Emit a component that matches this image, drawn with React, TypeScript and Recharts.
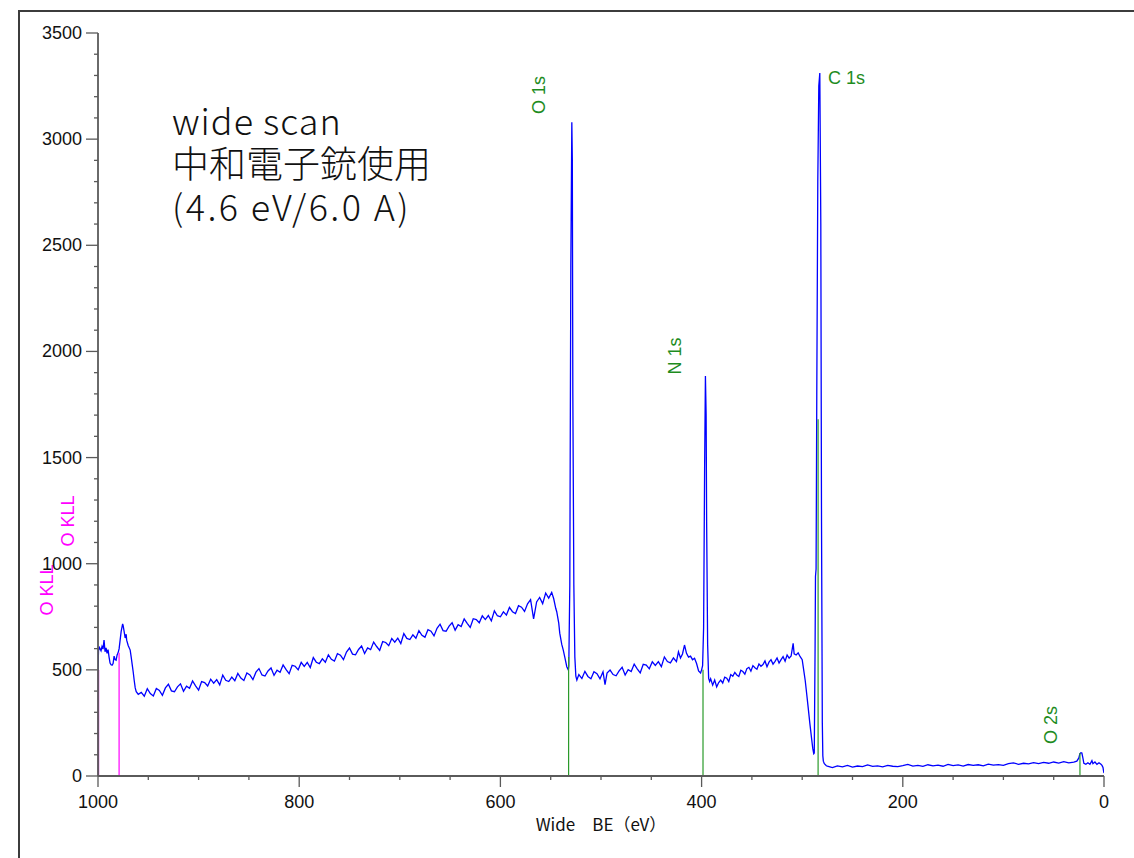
import React from "react";
import { LineChart, Line, XAxis, YAxis, ReferenceLine, ReferenceDot } from "recharts";

// wide scan spectrum: [binding energy (eV), intensity]
const spectrum: [number, number][] = [
  [1000, 500], [999.5, 590], [998.5, 605], [997, 590], [996, 610], [995, 598], [994, 640], [993, 585],
  [992, 603], [991, 578], [990, 595], [989, 560], [988, 532], [987, 524], [986, 522], [985, 530],
  [984, 565], [983, 548], [982, 545], [981, 570], [980, 580], [979, 600], [978, 640], [977, 680],
  [976, 705], [975.5, 716], [975, 708], [974, 680], [973, 650], [972, 668], [971.5, 640], [970, 615],
  [968, 593], [967, 560], [966, 525], [965, 490], [964, 450], [963, 415], [962, 397], [960, 385],
  [957, 394], [954, 376], [951, 411], [948, 388], [945, 377], [942, 412], [939, 403], [936, 380],
  [933, 415], [930, 432], [927, 401], [924, 397], [921, 420], [918, 434], [915, 399], [912, 423],
  [909, 413], [906, 448], [903, 425], [900, 405], [897, 445], [894, 440], [891, 424], [888, 456],
  [885, 437], [882, 454], [879, 429], [876, 475], [873, 451], [870, 445], [867, 466], [864, 449],
  [861, 483], [858, 461], [855, 450], [852, 485], [849, 476], [846, 454], [843, 489], [840, 506],
  [837, 476], [834, 471], [831, 495], [828, 509], [825, 474], [822, 498], [819, 489], [816, 523],
  [813, 501], [810, 482], [807, 521], [804, 517], [801, 500], [798, 535], [795, 516], [792, 535],
  [789, 511], [786, 558], [783, 536], [780, 529], [777, 552], [774, 536], [771, 571], [768, 550],
  [765, 541], [762, 576], [759, 569], [756, 548], [753, 584], [750, 603], [747, 574], [744, 571],
  [741, 596], [738, 612], [735, 577], [732, 603], [729, 595], [726, 631], [723, 610], [720, 592],
  [717, 633], [714, 629], [711, 614], [708, 648], [705, 630], [702, 649], [699, 624], [696, 671],
  [693, 648], [690, 643], [687, 665], [684, 649], [681, 685], [678, 663], [675, 654], [672, 689],
  [669, 682], [666, 660], [663, 696], [660, 715], [657, 685], [654, 682], [651, 706], [648, 722],
  [645, 687], [642, 713], [639, 704], [636, 740], [633, 719], [630, 700], [627, 741], [624, 737],
  [621, 722], [618, 755], [615, 737], [612, 756], [609, 731], [606, 778], [603, 755], [600, 750],
  [597, 773], [594, 758], [591, 794], [588, 774], [585, 765], [582, 802], [579, 795], [576, 775],
  [573, 811], [570, 831], [567, 740], [564, 820], [561, 841], [558, 812], [555, 862], [552, 838],
  [549, 865], [547, 835], [545, 790], [544, 774], [542, 720], [541, 673], [539, 620], [537.5, 593],
  [536, 560], [534, 515], [532.5, 500], [532, 520], [531, 900], [530, 2400], [529, 3080],
  [528.5, 2900], [528, 1800], [527, 900], [526, 560], [525, 470], [524, 452], [522, 478], [519, 459],
  [516, 493], [513, 469], [510, 458], [507, 491], [504, 482], [501, 458], [498, 491], [496, 430],
  [494, 485], [491, 499], [488, 478], [485, 472], [482, 495], [479, 512], [476, 476], [473, 501],
  [470, 492], [467, 527], [464, 505], [461, 486], [458, 526], [455, 522], [452, 505], [449, 538],
  [446, 521], [443, 539], [440, 515], [437, 561], [434, 539], [431, 533], [428, 556], [425, 539],
  [423, 585], [421, 556], [419, 575], [417, 617], [415, 578], [413, 560], [411, 565], [409, 548],
  [407, 555], [405, 530], [403, 495], [401, 485], [400, 500], [399, 520], [398, 700], [397, 1450],
  [396.2, 1884], [395.5, 1700], [395, 1200], [394, 620], [393, 460], [392, 445], [391, 458],
  [389, 428], [387, 452], [385, 420], [383, 440], [381, 452], [379, 438], [377, 466], [375, 461],
  [373, 445], [371, 478], [369, 470], [367, 488], [365, 476], [363, 469], [361, 498], [359, 492],
  [357, 480], [355, 506], [353, 512], [351, 494], [349, 520], [347, 510], [345, 503], [343, 528],
  [341, 517], [339, 525], [337, 542], [335, 515], [333, 536], [331, 548], [329, 527], [327, 540],
  [325, 556], [323, 532], [321, 548], [319, 562], [317, 541], [315, 570], [313, 555], [311, 566],
  [309, 625], [308, 575], [306, 570], [304, 580], [302, 562], [300, 548], [299, 515], [297, 450],
  [295.6, 390], [294, 320], [292.4, 248], [291, 190], [289.5, 130], [288.5, 105], [288, 108],
  [287.2, 600], [286.8, 940], [286.2, 975], [285.5, 1800], [284.5, 2800], [283.5, 3250],
  [282.5, 3311], [281.5, 2600], [280.8, 1200], [280, 250], [279.5, 95], [279, 70], [278, 58],
  [276, 48], [275, 46], [270, 40], [265, 48], [260, 43], [255, 50], [250, 42], [245, 47], [240, 44],
  [235, 52], [230, 45], [225, 48], [220, 43], [215, 50], [210, 46], [205, 44], [200, 49], [195, 55],
  [190, 47], [185, 50], [180, 45], [175, 53], [170, 48], [165, 51], [160, 46], [155, 55], [150, 49],
  [145, 52], [140, 47], [135, 54], [130, 50], [125, 53], [120, 48], [115, 56], [110, 51], [105, 54],
  [100, 50], [95, 58], [90, 62], [85, 55], [80, 60], [75, 57], [70, 63], [65, 58], [60, 64], [55, 60],
  [50, 66], [45, 61], [40, 68], [35, 62], [30, 65], [27, 70], [25, 85], [24, 105], [23, 110],
  [22, 108], [21, 85], [20, 60], [18, 55], [16, 62], [14, 55], [12, 72], [11, 58], [9, 66], [7, 55],
  [5, 62], [3, 55], [2, 50], [1, 40], [0.5, 25], [0, 14],
];

// photoelectron peaks (green markers)
const peakNames = ["O 1s", "N 1s", "C 1s", "O 2s"];
const peakEnergies = [532.2, 398.6, 284.2, 23.9];
const peakMarkerTops = [560, 500, 1680, 108];

// Auger lines (magenta markers)
const augerNames = ["O KLL", "O KLL"];
const augerEnergies = [999.6, 979];
const augerMarkerTops = [500, 580];

const xTicks = [0, 50, 100, 150, 200, 250, 300, 350, 400, 450, 500, 550, 600, 650, 700, 750, 800, 850, 900, 950, 1000];
const yTicks = [
  0, 100, 200, 300, 400, 500, 600, 700, 800, 900, 1000, 1100, 1200, 1300, 1400, 1500, 1600, 1700,
  1800, 1900, 2000, 2100, 2200, 2300, 2400, 2500, 2600, 2700, 2800, 2900, 3000, 3100, 3200, 3300,
  3400, 3500,
];

// where the peak names sit (data units), kept apart from the data
const peakLabelSpots = [
  { be: 561.6, cps: 3208, rotate: true },
  { be: 426.4, cps: 1978, rotate: true },
  { be: 274.4, cps: 3288, rotate: false },
  { be: 52.7, cps: 240, rotate: true },
];
const augerLabelSpots = [
  { be: 1050.7, cps: 876 },
  { be: 1029.8, cps: 1201 },
];

const noteLines = ["wide scan", "中和電子銃使用", "(4.6 eV/6.0 A)"];

const data = spectrum.map(([be, cps]) => ({ be, cps }));

const GREEN = "#1e8c1e";
const MAGENTA = "#ff00ff";
const AXIS = "#5a5a5a";
const tickFont = "'Liberation Sans', Arial, sans-serif";
const jpFont = "'Noto Sans CJK JP', sans-serif";

const XTick = (props: any) => {
  const { x, y, payload } = props;
  const v = payload.value as number;
  const major = v % 200 === 0;
  return (
    <g>
      <line x1={x} x2={x} y1={y} y2={y + (major ? 11 : 4)} stroke={AXIS} strokeWidth={1.3} />
      {major && (
        <text x={x} y={y + 26} textAnchor="middle" dominantBaseline="central" fontSize={18} fill="#111" fontFamily={tickFont}>
          {v}
        </text>
      )}
    </g>
  );
};

const YTick = (props: any) => {
  const { x, y, payload } = props;
  const v = payload.value as number;
  const major = v % 500 === 0;
  return (
    <g>
      <line x1={x - (major ? 12 : 4)} x2={x} y1={y} y2={y} stroke={AXIS} strokeWidth={1.3} />
      {major && (
        <text x={x - 16} y={y} textAnchor="end" dominantBaseline="central" fontSize={18} fill="#111" fontFamily={tickFont}>
          {v}
        </text>
      )}
    </g>
  );
};

const labelShape = (text: string, color: string, rotate: boolean) => (p: any) => {
  const { cx, cy } = p;
  return (
    <text
      x={cx}
      y={cy}
      transform={rotate ? `rotate(-90 ${cx} ${cy})` : undefined}
      textAnchor={rotate ? "middle" : "start"}
      dominantBaseline="central"
      fontSize={18}
      fill={color}
      fontFamily={tickFont}
    >
      {text}
    </text>
  );
};

export default function App() {
  return (
    <div style={{ position: "absolute", left: 0, top: 0, width: 1134, height: 858, overflow: "hidden", background: "#fff" }}>
      <div
        style={{
          position: "absolute",
          left: 18,
          top: 10,
          width: 1200,
          height: 900,
          borderLeft: "2px solid #3c3c3c",
          borderTop: "2px solid #3c3c3c",
        }}
      />
      <div style={{ position: "absolute", left: 0, top: 0 }}>
        <LineChart width={1134} height={858} data={data} margin={{ top: 33, right: 30, bottom: 52, left: 38 }}>
          <XAxis
            dataKey="be"
            type="number"
            domain={[0, 1000]}
            reversed
            allowDataOverflow
            ticks={xTicks}
            interval={0}
            tick={<XTick />}
            tickLine={false}
            tickSize={0}
            tickMargin={0}
            height={30}
            axisLine={{ stroke: AXIS, strokeWidth: 1.8 }}
            label={{
              value: "Wide\u3000BE（eV）",
              position: "bottom",
              offset: 13,
              fontSize: 17,
              fill: "#111",
              fontFamily: jpFont,
            }}
          />
          <YAxis
            type="number"
            domain={[0, 3500]}
            allowDataOverflow
            ticks={yTicks}
            interval={0}
            tick={<YTick />}
            tickLine={false}
            tickSize={0}
            tickMargin={0}
            width={60}
            axisLine={{ stroke: AXIS, strokeWidth: 1.8 }}
          />
          <Line
            type="linear"
            dataKey="cps"
            stroke="#0000ff"
            strokeWidth={1.3}
            dot={false}
            activeDot={false}
            isAnimationActive={false}
          />
          {peakEnergies.map((be, i) => (
            <ReferenceLine
              key={`pk-${i}`}
              segment={[{ x: be, y: 0 }, { x: be, y: peakMarkerTops[i] }]}
              stroke="#2a9a2a"
              strokeWidth={1.2}
              ifOverflow="visible"
            />
          ))}
          {augerEnergies.map((be, i) => (
            <ReferenceLine
              key={`au-${i}`}
              segment={[{ x: be, y: 0 }, { x: be, y: augerMarkerTops[i] }]}
              stroke={i === 0 ? "#c020c8" : "#ff40ff"}
              strokeWidth={1.6}
              ifOverflow="visible"
            />
          ))}
          {peakNames.map((name, i) => (
            <ReferenceDot
              key={`pl-${i}`}
              x={peakLabelSpots[i].be}
              y={peakLabelSpots[i].cps}
              r={0}
              ifOverflow="visible"
              shape={labelShape(name, GREEN, peakLabelSpots[i].rotate)}
            />
          ))}
          {augerNames.map((name, i) => (
            <ReferenceDot
              key={`al-${i}`}
              x={augerLabelSpots[i].be}
              y={augerLabelSpots[i].cps}
              r={0}
              ifOverflow="visible"
              shape={labelShape(name, MAGENTA, true)}
            />
          ))}
        </LineChart>
      </div>
      <div
        style={{
          position: "absolute",
          left: 172,
          top: 98,
          fontFamily: jpFont,
          fontWeight: 300,
          color: "#111",
          whiteSpace: "pre",
          lineHeight: "43px",
        }}
      >
        <div style={{ fontSize: 36, letterSpacing: 1 }}>{noteLines[0]}</div>
        <div style={{ fontSize: 37 }}>{noteLines[1]}</div>
        <div style={{ fontSize: 36, letterSpacing: 2.4 }}>{noteLines[2]}</div>
      </div>
    </div>
  );
}
